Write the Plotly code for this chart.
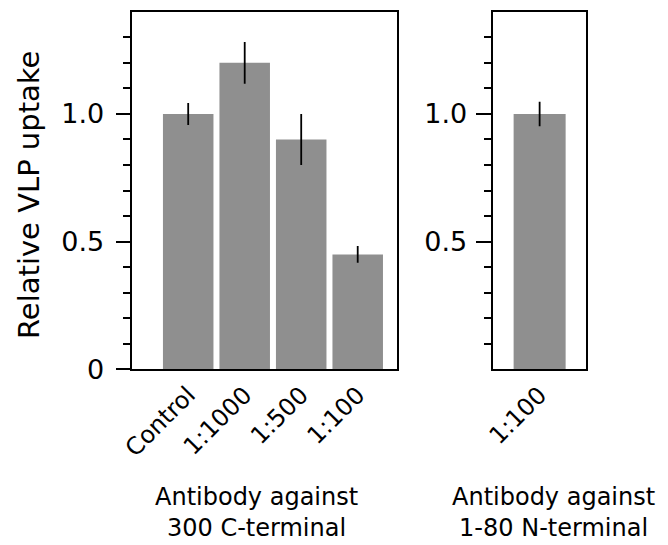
import numpy as np
import plotly.graph_objects as go

# ---- data ----
categories_left = ["Control", "1:1000", "1:500", "1:100"]
values_left = [1.0, 1.2, 0.9, 0.45]
errors_left = [0.043, 0.082, 0.10, 0.033]

categories_right = ["1:100"]
values_right = [1.0]
errors_right = [0.048]

ytick_vals_left = [0, 0.5, 1.0]
ytick_text_left = ["0", "0.5", "1.0"]
ytick_vals_right = [0.5, 1.0]
ytick_text_right = ["0.5", "1.0"]
minor_vals = [round(v, 2) for v in np.arange(0.1, 1.35, 0.1)]

group_labels = ["Antibody against<br>300 C-terminal", "Antibody against<br>1-80 N-terminal"]
y_title = "Relative VLP uptake"

W, H = 668, 545
FONT = "DejaVu Sans"
BAR_COLOR = "#8f8f8f"

def px_x(p):
    return p / W

def px_y(p):
    return (H - p) / H

fig = go.Figure()
fig.add_trace(go.Bar(
    x=categories_left, y=values_left, width=0.894,
    marker=dict(color=BAR_COLOR, line=dict(width=0)),
    error_y=dict(type="data", array=errors_left, color="black", thickness=1.8, width=0),
    xaxis="x", yaxis="y", showlegend=False,
))
fig.add_trace(go.Bar(
    x=categories_right, y=values_right, width=0.92,
    marker=dict(color=BAR_COLOR, line=dict(width=0)),
    error_y=dict(type="data", array=errors_right, color="black", thickness=1.8, width=0),
    xaxis="x2", yaxis="y2", showlegend=False,
))

axis_common = dict(showline=True, mirror=True, linewidth=2, linecolor="black",
                   showgrid=False, zeroline=False, automargin=False)

y0, y1 = px_y(369.3), px_y(12.3)

fig.update_layout(
    template="none",
    width=W, height=H,
    margin=dict(l=0, r=0, t=0, b=0, pad=0),
    paper_bgcolor="white", plot_bgcolor="white",
    font=dict(family=FONT, color="black"),
    xaxis=dict(domain=[px_x(131.7), px_x(396.7)], range=[-1.0, 3.69],
               ticks="", tickangle=-45, tickfont=dict(size=24, family=FONT),
               anchor="y", **axis_common),
    yaxis=dict(domain=[y0, y1], range=[0, 1.398], anchor="x",
               tickmode="array", tickvals=ytick_vals_left, ticktext=ytick_text_left,
               ticks="outside", ticklen=14, tickwidth=1.6, tickcolor="black",
               tickfont=dict(size=27, family=FONT), ticklabelstandoff=6,
               minor=dict(tickmode="array", tickvals=minor_vals, ticks="outside",
                          ticklen=7, tickwidth=1.6, tickcolor="black"),
               **axis_common),
    xaxis2=dict(domain=[px_x(492.7), px_x(586.0)], range=[-0.83, 0.82],
                ticks="", tickangle=-45, tickfont=dict(size=24, family=FONT),
                anchor="y2", **axis_common),
    yaxis2=dict(domain=[y0, y1], range=[0, 1.398], anchor="x2",
                tickmode="array", tickvals=ytick_vals_right, ticktext=ytick_text_right,
                ticks="outside", ticklen=15, tickwidth=1.6, tickcolor="black",
                tickfont=dict(size=27, family=FONT), ticklabelstandoff=3,
                minor=dict(tickmode="array", tickvals=minor_vals, ticks="outside",
                           ticklen=7, tickwidth=1.6, tickcolor="black"),
                **axis_common),
    annotations=[
        dict(text=y_title, textangle=-90, x=px_x(29), y=px_y(195),
             xref="paper", yref="paper", xanchor="center", yanchor="middle",
             showarrow=False, font=dict(size=29, family=FONT)),
        dict(text=group_labels[0], x=px_x(256.5), y=px_y(512),
             xref="paper", yref="paper", xanchor="center", yanchor="middle",
             showarrow=False, font=dict(size=24, family=FONT)),
        dict(text=group_labels[1], x=px_x(553.5), y=px_y(512),
             xref="paper", yref="paper", xanchor="center", yanchor="middle",
             showarrow=False, font=dict(size=24, family=FONT)),
    ],
)

fig.write_html("out.html")
